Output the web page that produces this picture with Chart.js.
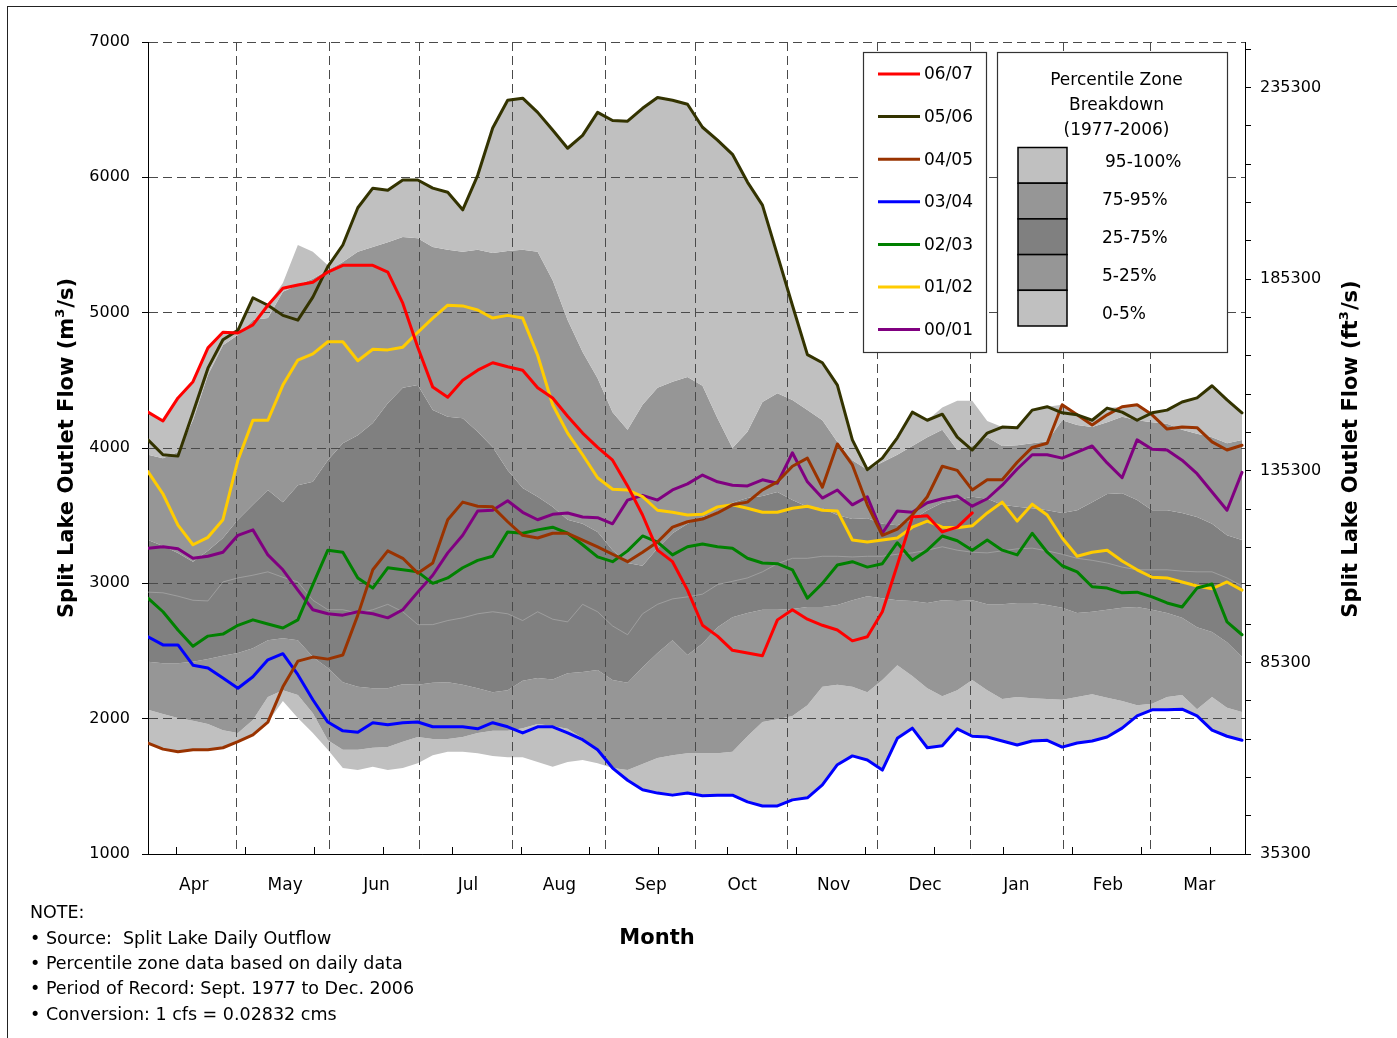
<!DOCTYPE html>
<html>
<head>
<meta charset="utf-8">
<script src="https://cdn.jsdelivr.net/npm/chart.js@4.4.1/dist/chart.umd.min.js"></script>
<style>
html, body { margin: 0; padding: 0; background: #fff; }
#wrap { position: relative; width: 1397px; height: 1038px; overflow: hidden; font-family: "DejaVu Sans", sans-serif; color: #000; }
#frame { position: absolute; left: 7px; top: 6px; width: 2000px; height: 2000px; border-left: 1px solid #222; border-top: 1px solid #222; }
#c { position: absolute; left: 0; top: 0; }
.note { position: absolute; left: 30px; font-size: 17.5px; line-height: 22px; white-space: pre; }
#month { position: absolute; left: 557px; width: 200px; top: 925px; text-align: center; font-weight: bold; font-size: 21px; }
</style>
</head>
<body>
<div id="wrap">
  <div id="frame"></div>
  <canvas id="c" width="1397" height="1038"></canvas>
  <div id="month">Month</div>
  <div class="note" style="top:901px">NOTE:</div>
  <div class="note" style="top:927px">• Source:  Split Lake Daily Outflow</div>
  <div class="note" style="top:952px">• Percentile zone data based on daily data</div>
  <div class="note" style="top:977px">• Period of Record: Sept. 1977 to Dec. 2006</div>
  <div class="note" style="top:1003px">• Conversion: 1 cfs = 0.02832 cms</div>
</div>
<script>
// day index from 1 April (leap year axis, 366 days)
var days = [0,5,10,15,20,25,30,35,40,45,50,55,60,65,70,75,80,85,90,95,100,105,110,115,120,125,130,135,140,145,
  150,155,160,165,170,175,180,185,190,195,200,205,210,215,220,225,230,235,240,245,250,255,260,265,270,275,280,285,
  290,295,300,305,310,315,320,325,330,335,340,345,350,355,360,365];
var monthLabels = ["Apr","May","Jun","Jul","Aug","Sep","Oct","Nov","Dec","Jan","Feb","Mar"];
var monthEnds = [30,61,91,122,153,183,214,244,275,306,335];
var cmsTicks = [1000,2000,3000,4000,5000,6000,7000];
var CMS_PER_CFS = 0.02832;

// percentile zone boundaries (m3/s), 1977-2006
var pMin = [1820,1775,1755,1770,1770,1785,1830,1880,1975,2130,2005,1895,1770,1635,1620,1645,1620,1635,1670,1730,
  1755,1755,1745,1725,1715,1715,1680,1645,1680,1695,1670,1635,1545,1475,1450,1435,1450,1430,1435,1435,
  1385,1355,1355,1400,1415,1510,1660,1725,1695,1620,1855,1930,1785,1800,1925,1870,1865,1835,1805,1835,
  1840,1790,1820,1835,1865,1930,2020,2065,2065,2070,2020,1915,1870,1840];
var p5 = [2065,2035,2005,1985,1960,1915,1895,1990,2160,2210,2175,2040,1840,1770,1770,1785,1790,1830,1865,1850,
  1850,1865,1895,1910,1910,1930,1960,1945,1925,1855,1755,1635,1620,1665,1710,1730,1745,1745,1745,1755,
  1870,1975,1995,2020,2100,2235,2250,2235,2195,2285,2395,2315,2225,2165,2210,2285,2210,2145,2160,2150,
  2145,2140,2160,2180,2155,2130,2100,2110,2160,2175,2070,2160,2080,2050];
var p25 = [2420,2410,2410,2420,2440,2465,2485,2520,2580,2595,2580,2455,2375,2270,2235,2225,2225,2255,2250,2265,
  2270,2250,2225,2195,2210,2280,2300,2290,2335,2345,2360,2285,2265,2380,2485,2580,2470,2555,2675,2750,
  2780,2805,2805,2810,2825,2825,2840,2875,2905,2890,2875,2870,2855,2875,2870,2875,2845,2845,2855,2855,
  2840,2820,2780,2790,2805,2820,2825,2805,2780,2745,2675,2640,2565,2455];
var p50 = [2935,2930,2905,2875,2870,3010,3040,3060,3085,3045,3010,2875,2805,2805,2780,2805,2845,2790,2695,2695,
  2725,2745,2775,2790,2775,2725,2790,2735,2715,2845,2790,2685,2620,2775,2845,2885,2900,2920,2990,3015,
  3040,3085,3145,3185,3185,3200,3200,3195,3200,3200,3215,3225,3245,3270,3245,3230,3225,3240,3255,3260,
  3240,3215,3185,3170,3150,3120,3100,3100,3100,3090,3085,3085,3040,2980];
var p75 = [3320,3275,3225,3160,3240,3335,3470,3580,3690,3600,3725,3750,3910,4035,4095,4185,4330,4445,4465,4280,
  4230,4220,4120,4005,3835,3705,3640,3565,3470,3440,3380,3245,3150,3130,3260,3370,3440,3490,3525,3595,
  3630,3645,3675,3615,3565,3555,3505,3475,3480,3440,3430,3470,3540,3595,3615,3640,3625,3580,3565,3555,
  3540,3520,3540,3600,3660,3665,3615,3540,3540,3520,3490,3440,3355,3320];
var p95 = [3950,3925,3970,4205,4540,4760,4835,4945,4960,5155,5205,5250,5315,5375,5450,5485,5520,5560,5550,5485,
  5465,5450,5465,5440,5455,5465,5450,5240,4945,4710,4515,4265,4135,4320,4445,4490,4525,4460,4220,4000,
  4120,4340,4405,4355,4280,4205,4045,3910,3840,3895,3950,4015,4080,4135,3985,4015,4080,4015,4020,4035,
  4050,4205,4170,4155,4190,4230,4205,4190,4180,4135,4105,4080,4035,4060];
var pMax = [4265,4200,4370,4490,4740,4855,4870,5110,5055,5220,5500,5450,5350,5500,5775,5920,5905,5980,5980,5920,
  5890,5760,6015,6365,6570,6585,6480,6350,6215,6310,6480,6420,6415,6510,6590,6570,6540,6370,6275,6170,
  5965,5795,5425,5055,4690,4630,4465,4060,3840,3925,4075,4265,4205,4300,4350,4350,4200,4155,4150,4280,
  4305,4320,4245,4205,4295,4305,4320,4260,4280,4340,4370,4460,4355,4260];

// yearly outflow (m3/s)
var y0607 = [4265,4200,4370,4490,4740,4855,4850,4910,5055,5180,5205,5225,5300,5350,5350,5350,5300,5070,4745,4450,
  4375,4500,4575,4630,4600,4575,4445,4370,4235,4110,4005,3910,3720,3505,3245,3160,2950,2690,2610,2505,
  2485,2465,2730,2805,2735,2690,2655,2575,2605,2790,3135,3490,3500,3380,3415,3520,null,null,null,null,
  null,null,null,null,null,null,null,null,null,null,null,null,null,null];
var y0506 = [4060,3950,3940,4260,4590,4800,4870,5110,5055,4980,4945,5115,5340,5500,5775,5920,5905,5980,5980,5920,
  5890,5760,6015,6365,6570,6585,6480,6350,6215,6310,6480,6420,6415,6510,6590,6570,6540,6370,6275,6170,
  5965,5795,5425,5055,4690,4630,4465,4060,3840,3925,4075,4265,4205,4250,4080,3985,4110,4155,4150,4280,
  4305,4260,4245,4205,4295,4265,4205,4260,4280,4340,4370,4460,4355,4260];
var y0405 = [1820,1775,1755,1770,1770,1785,1830,1880,1975,2235,2425,2455,2440,2470,2765,3100,3240,3185,3075,3150,
  3470,3600,3570,3565,3455,3355,3335,3370,3370,3320,3270,3215,3160,3230,3305,3415,3455,3475,3520,3580,
  3600,3690,3750,3865,3925,3710,4030,3875,3580,3355,3400,3505,3640,3865,3835,3690,3765,3765,3895,4005,
  4035,4320,4245,4170,4245,4305,4320,4245,4140,4155,4150,4045,3985,4020];
var y0304 = [2605,2545,2545,2395,2375,2300,2225,2310,2435,2480,2325,2140,1975,1910,1900,1970,1955,1970,1975,1940,
  1940,1940,1925,1970,1940,1895,1940,1940,1895,1845,1770,1635,1545,1475,1450,1435,1450,1430,1435,1435,
  1385,1355,1355,1400,1415,1510,1660,1725,1695,1620,1855,1930,1785,1800,1925,1870,1865,1835,1805,1835,
  1840,1790,1820,1835,1865,1930,2020,2065,2065,2070,2020,1915,1870,1840];
var y0203 = [2890,2790,2655,2535,2610,2625,2690,2730,2700,2670,2730,2990,3245,3230,3040,2965,3115,3100,3085,3000,
  3040,3115,3170,3200,3380,3370,3395,3415,3370,3285,3195,3160,3240,3350,3305,3210,3270,3290,3270,3260,
  3185,3150,3145,3100,2890,3000,3135,3160,3120,3145,3300,3170,3245,3350,3315,3245,3320,3245,3210,3370,
  3230,3130,3085,2975,2965,2930,2935,2900,2855,2825,2965,2995,2715,2620];
var y0102 = [3825,3660,3430,3285,3340,3470,3910,4205,4205,4465,4650,4695,4785,4785,4645,4730,4725,4745,4855,4960,
  5055,5050,5020,4960,4980,4960,4685,4320,4110,3950,3780,3695,3690,3640,3540,3525,3505,3510,3565,3580,
  3555,3525,3525,3555,3570,3540,3535,3320,3305,3320,3335,3415,3460,3415,3410,3425,3520,3600,3460,3585,
  3505,3335,3200,3230,3245,3165,3100,3045,3040,3010,2980,2960,3010,2950];
var y0001 = [3260,3270,3255,3185,3200,3230,3355,3395,3210,3100,2950,2805,2775,2765,2790,2775,2745,2805,2935,3060,
  3225,3355,3535,3540,3610,3525,3470,3510,3520,3490,3485,3440,3615,3650,3615,3690,3735,3800,3750,3725,
  3720,3765,3740,3965,3750,3630,3690,3580,3640,3370,3535,3525,3595,3625,3645,3570,3625,3725,3845,3950,
  3950,3925,3970,4015,3890,3780,4060,3990,3985,3910,3810,3675,3540,3820];

var seasonLabels = ["06/07","05/06","04/05","03/04","02/03","01/02","00/01"];
var seasonData = [y0607, y0506, y0405, y0304, y0203, y0102, y0001];
var seasonColors = ["#ff0000","#333300","#993300","#0000ff","#008000","#ffcc00","#800080"];
var zoneLabels = ["95-100%","75-95%","25-75%","5-25%","0-5%"];
var zoneColors = ["#c0c0c0","#969696","#808080","#969696","#c0c0c0"];

function pts(arr) {
    return days.map(function(d, i) { return {x: d, y: arr[i]}; });
}

function band(label, arr, color, order) {
    return {label: label, data: pts(arr), fill: color ? "-1" : false, backgroundColor: color || "transparent",
        borderWidth: 0, pointRadius: 0, tension: 0, order: order};
}

var datasets = [
    band("min", pMin, null, 16),
    band("0-5%", p5, "#c0c0c0", 15),
    band("5-25%", p25, "#969696", 14),
    band("25-75%", p75, "#808080", 13),
    band("75-95%", p95, "#969696", 12),
    band("95-100%", pMax, "#c0c0c0", 11),
    {label: "median", data: pts(p50), fill: false, borderColor: "rgba(175,175,175,0.8)", borderWidth: 0.8,
        pointRadius: 0, tension: 0, order: 10}
];
seasonData.forEach(function(arr, i) {
    datasets.push({label: seasonLabels[i], data: pts(arr), fill: false, borderColor: seasonColors[i],
        borderWidth: 3, pointRadius: 0, tension: 0, spanGaps: false, order: i,
        borderJoinStyle: "round", borderCapStyle: "round"});
});

// grid lines sit above the zones but under the flow lines
var gridOverBands = {
    id: "gridOverBands",
    afterDatasetDraw: function(chart, args) {
        if (args.index !== 5) return;
        var area = chart.chartArea;
        chart.scales.x.drawGrid(area);
        chart.scales.y.drawGrid(area);
        chart.scales.y.drawBorder();
        chart.scales.y2.drawBorder();
        chart.scales.xm.drawBorder();
    }
};

function drawSupTitle(ctx, cx, cy, pre, sup, post) {
    ctx.save();
    ctx.translate(cx, cy);
    ctx.rotate(-Math.PI / 2);
    var big = "bold 21px 'DejaVu Sans'", small = "bold 13px 'DejaVu Sans'";
    ctx.font = big;
    var w1 = ctx.measureText(pre).width, w3 = ctx.measureText(post).width;
    ctx.font = small;
    var w2 = ctx.measureText(sup).width + 1;
    var x = -(w1 + w2 + w3) / 2;
    ctx.fillStyle = "#000";
    ctx.textBaseline = "middle";
    ctx.textAlign = "left";
    ctx.font = big;
    ctx.fillText(pre, x, 0);
    ctx.font = small;
    ctx.fillText(sup, x + w1, -7);
    ctx.font = big;
    ctx.fillText(post, x + w1 + w2, 0);
    ctx.restore();
}

var decorations = {
    id: "decorations",
    afterDraw: function(chart) {
        var ctx = chart.ctx;
        var xs = chart.scales.x, area = chart.chartArea;
        ctx.save();
        // small inside tick marks on the day axis
        ctx.strokeStyle = "#000";
        ctx.lineWidth = 1;
        for (var d = 9.3; d < 366; d += 23) {
            var px = Math.round(xs.getPixelForValue(d)) + 0.5;
            ctx.beginPath();
            ctx.moveTo(px, area.bottom - 7);
            ctx.lineTo(px, area.bottom);
            ctx.stroke();
        }

        // season legend
        ctx.fillStyle = "#fff";
        ctx.fillRect(863.5, 52.5, 123, 300);
        ctx.strokeStyle = "#333";
        ctx.lineWidth = 1.2;
        ctx.strokeRect(863.5, 52.5, 123, 300);
        ctx.font = "17px 'DejaVu Sans'";
        ctx.textBaseline = "middle";
        ctx.textAlign = "left";
        seasonLabels.forEach(function(lab, i) {
            var y = 74 + i * 42.6;
            ctx.strokeStyle = seasonColors[i];
            ctx.lineWidth = 3;
            ctx.beginPath();
            ctx.moveTo(878, y);
            ctx.lineTo(920, y);
            ctx.stroke();
            ctx.fillStyle = "#000";
            ctx.fillText(lab, 924, y + 1);
        });

        // percentile zone legend
        ctx.fillStyle = "#fff";
        ctx.fillRect(997.5, 52.5, 230, 300);
        ctx.strokeStyle = "#333";
        ctx.lineWidth = 1.2;
        ctx.strokeRect(997.5, 52.5, 230, 300);
        ctx.fillStyle = "#000";
        ctx.font = "17px 'DejaVu Sans'";
        ctx.textAlign = "center";
        ctx.fillText("Percentile Zone", 1116.5, 81);
        ctx.fillText("Breakdown", 1116.5, 106);
        ctx.fillText("(1977-2006)", 1116.5, 131);
        ctx.textAlign = "left";
        var cellH = 35.7;
        zoneLabels.forEach(function(lab, i) {
            var top = 147.5 + i * cellH;
            ctx.fillStyle = zoneColors[i];
            ctx.fillRect(1018, top, 49, cellH);
            ctx.strokeStyle = "#000";
            ctx.lineWidth = 1.5;
            ctx.strokeRect(1018, top, 49, cellH);
            ctx.fillStyle = "#000";
            ctx.fillText(lab, i === 0 ? 1105 : 1102, 163 + i * 38);
        });
        ctx.restore();

        drawSupTitle(ctx, 68, 448, "Split Lake Outlet Flow (m", "3", "/s)");
        drawSupTitle(ctx, 1352, 449, "Split Lake Outlet Flow (ft", "3", "/s)");
    }
};

Chart.defaults.font.family = "'DejaVu Sans', sans-serif";
Chart.defaults.font.size = 16;
Chart.defaults.color = "#000";

new Chart(document.getElementById("c"), {
    type: "line",
    data: {datasets: datasets},
    options: {
        responsive: false,
        animation: false,
        events: [],
        layout: {padding: {top: 42, left: 0, right: 0, bottom: 0}},
        plugins: {legend: {display: false}, tooltip: {enabled: false}},
        scales: {
            x: {
                type: "linear", position: "bottom", min: 0, max: 366,
                afterBuildTicks: function(s) {
                    s.ticks = monthEnds.map(function(v) { return {value: v - 0.5}; });
                },
                ticks: {display: false},
                grid: {color: "#4a4a4a", lineWidth: 1, drawTicks: false},
                border: {display: false, dash: [9, 5]},
                afterFit: function(s) { s.height = 0; }
            },
            xm: {
                type: "linear", position: "bottom", min: 0, max: 12,
                afterBuildTicks: function(s) {
                    s.ticks = monthLabels.map(function(m, i) { return {value: i + 0.5}; });
                },
                ticks: {
                    autoSkip: false, maxRotation: 0, padding: 21, font: {size: 17},
                    callback: function(v, i) { return monthLabels[i]; }
                },
                grid: {display: false, drawTicks: false},
                border: {display: true, color: "#000", width: 1},
                afterFit: function(s) { s.height = 1038 - 854; }
            },
            y: {
                position: "left", min: 1000, max: 7000,
                afterBuildTicks: function(s) {
                    s.ticks = cmsTicks.map(function(v) { return {value: v}; });
                },
                ticks: {padding: 12, callback: function(v) { return String(v); }},
                grid: {
                    color: function(c) { return c.tick && c.tick.value === 1000 ? "rgba(0,0,0,0)" : "#4a4a4a"; },
                    lineWidth: 1, tickLength: 6, tickColor: "#000", tickWidth: 1
                },
                border: {display: true, color: "#000", width: 1, dash: [9, 5]},
                afterFit: function(s) { s.width = 148; }
            },
            y2: {
                position: "right", min: 35300, max: 35300 + 6000 / CMS_PER_CFS,
                afterBuildTicks: function(s) {
                    var t = [];
                    for (var v = 35300; v <= s.max; v += 10000) t.push({value: v});
                    s.ticks = t;
                },
                ticks: {
                    padding: 9,
                    callback: function(v) { return (v - 35300) % 50000 === 0 ? String(v) : ""; }
                },
                grid: {drawOnChartArea: false, tickLength: 6, tickColor: "#000", tickWidth: 1},
                border: {display: true, color: "#000", width: 1},
                afterFit: function(s) { s.width = 1397 - 1245; }
            }
        }
    },
    plugins: [gridOverBands, decorations]
});
</script>
</body>
</html>
